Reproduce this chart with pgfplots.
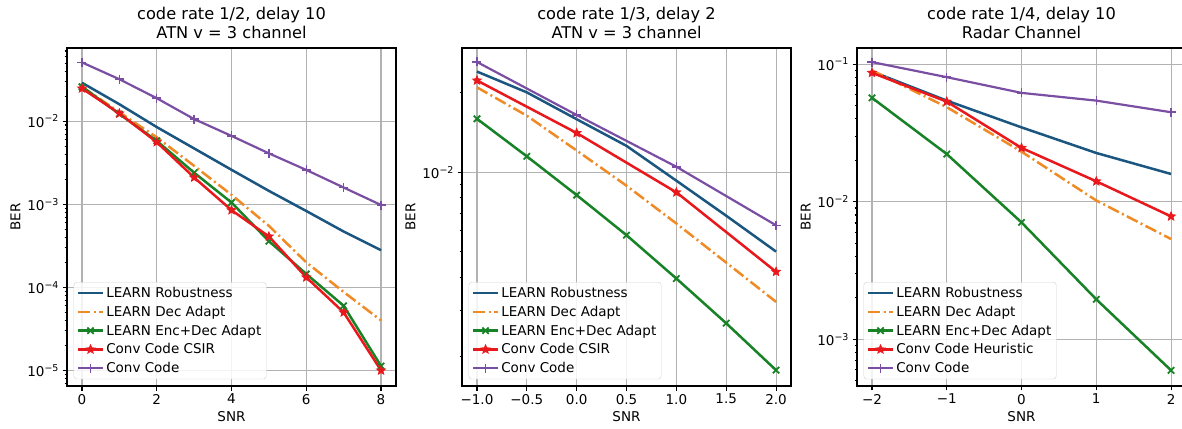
\documentclass[border=0pt]{standalone}
\usepackage{fontspec}
\setmainfont{DejaVu Sans}
\usepackage{pgfplots}
\pgfplotsset{compat=1.18}
\definecolor{cblue}{HTML}{1A5680}
\definecolor{corange}{HTML}{F08A24}
\definecolor{cgreen}{HTML}{178226}
\definecolor{cred}{HTML}{E8181C}
\definecolor{cpurple}{HTML}{7A4EA2}
\pgfdeclareplotmark{fstar}{%
 \pgfpathmoveto{\pgfpointpolar{90}{\pgfplotmarksize}}%
 \pgfpathlineto{\pgfpointpolar{126}{0.45\pgfplotmarksize}}%
 \pgfpathlineto{\pgfpointpolar{162}{\pgfplotmarksize}}%
 \pgfpathlineto{\pgfpointpolar{198}{0.45\pgfplotmarksize}}%
 \pgfpathlineto{\pgfpointpolar{234}{\pgfplotmarksize}}%
 \pgfpathlineto{\pgfpointpolar{270}{0.45\pgfplotmarksize}}%
 \pgfpathlineto{\pgfpointpolar{306}{\pgfplotmarksize}}%
 \pgfpathlineto{\pgfpointpolar{342}{0.45\pgfplotmarksize}}%
 \pgfpathlineto{\pgfpointpolar{18}{\pgfplotmarksize}}%
 \pgfpathlineto{\pgfpointpolar{54}{0.45\pgfplotmarksize}}%
 \pgfpathclose\pgfusepathqfillstroke}
\newcommand{\tf}{\fontsize{13.5}{16}\selectfont}
\pgfplotsset{
  legend image code/.code={\draw[mark repeat=2,mark phase=2,#1] plot coordinates {(0pt,0pt) (12.5pt,0pt) (25pt,0pt)};},
  bersub/.style={
    scale only axis, width=329pt, height=338pt,
    anchor=south west,
    axis line style={black, line width=1.3pt},
    tick align=outside, xtick pos=left, ytick pos=left,
    major tick length=4.5pt, minor tick length=2.5pt,
    every tick/.style={black, line width=1.1pt},
    grid=major, major grid style={gray!60, line width=1.1pt},
    tick label style={font=\tf},
    /pgf/number format/assume math mode=true,
    xlabel style={font=\tf}, ylabel style={font=\tf},
    xlabel={SNR}, ylabel={BER},
    title style={align=center, font=\fontsize{16.2}{18.5}\selectfont},
    ytick={1e-6,1e-5,1e-4,1e-3,1e-2,1e-1,1},
    yticklabels={10\textsuperscript{−6},10\textsuperscript{−5},10\textsuperscript{−4},10\textsuperscript{−3},10\textsuperscript{−2},10\textsuperscript{−1},10\textsuperscript{0}},
    minor ytick={2e-6,3e-6,4e-6,5e-6,6e-6,7e-6,8e-6,9e-6,2e-5,3e-5,4e-5,5e-5,6e-5,7e-5,8e-5,9e-5,2e-4,3e-4,4e-4,5e-4,6e-4,7e-4,8e-4,9e-4,2e-3,3e-3,4e-3,5e-3,6e-3,7e-3,8e-3,9e-3,2e-2,3e-2,4e-2,5e-2,6e-2,7e-2,8e-2,9e-2,2e-1,3e-1,4e-1,5e-1,6e-1,7e-1,8e-1,9e-1},
    legend cell align=left,
    legend style={at={(0.02,0.02)}, anchor=south west, font=\tf,
      draw=gray!35, rounded corners=3pt, fill=white, fill opacity=0.85, text opacity=1,
      inner sep=3pt, row sep=3pt},
  },
  sblue/.style={cblue, line width=2.5pt, no markers},
  sorange/.style={corange, line width=2.5pt, no markers, dash pattern=on 12pt off 3.5pt on 2pt off 3.5pt},
  sgreen/.style={cgreen, line width=2.5pt, mark=x, mark size=4.5pt, mark options={solid, line width=1.8pt}},
  sred/.style={cred, line width=2.5pt, mark=fstar, mark size=4.3pt, mark options={solid, fill=cred, line width=1pt}},
  spurple/.style={cpurple, line width=2.2pt, mark=+, mark size=4.5pt, mark options={solid, line width=1.5pt}},
}
\begin{document}
\begin{tikzpicture}
% Panel 1
\begin{semilogyaxis}[bersub, at={(67pt,42pt)},
  xmin=-0.4, xmax=8.4, ymin=6.5e-6, ymax=0.076,
  xtick={0,2,4,6,8},
  title={code rate 1/2, delay 10\\ATN v = 3 channel}]
\addplot[sblue] coordinates {(0,0.029) (1,0.016) (2,0.0085) (3,0.0047) (4,0.0026) (5,0.00145) (6,0.00083) (7,0.00047) (8,0.00028)};
\addlegendentry{LEARN Robustness}
\addplot[sorange] coordinates {(0,0.026) (1,0.0128) (2,0.0064) (3,0.0029) (4,0.0013) (5,0.00055) (6,0.0002) (7,0.000088) (8,0.00004)};
\addlegendentry{LEARN Dec Adapt}
\addplot[sgreen] coordinates {(0,0.026) (1,0.0122) (2,0.0058) (3,0.0024) (4,0.00105) (5,0.00036) (6,0.000145) (7,0.00006) (8,0.0000113)};
\addlegendentry{LEARN Enc+Dec Adapt}
\addplot[sred] coordinates {(0,0.0248) (1,0.0124) (2,0.0056) (3,0.0021) (4,0.00085) (5,0.00041) (6,0.000132) (7,0.00005) (8,0.00001)};
\addlegendentry{Conv Code CSIR}
\addplot[spurple] coordinates {(0,0.051) (1,0.032) (2,0.0189) (3,0.0106) (4,0.00665) (5,0.0041) (6,0.00259) (7,0.00159) (8,0.00098)};
\addlegendentry{Conv Code}
\end{semilogyaxis}
% Panel 2
\begin{semilogyaxis}[bersub, at={(462pt,42pt)},
  xmin=-1.15, xmax=2.15, ymin=0.00155, ymax=0.0296,
  xtick={-1,-0.5,0,0.5,1,1.5,2},
  xticklabels={−1.0,−0.5,0.0,0.5,1.0,1.5,2.0},
  title={code rate 1/3, delay 2\\ATN v = 3 channel}]
\addplot[sblue] coordinates {(-1,0.0241) (-0.5,0.0201) (0,0.0159) (0.5,0.0126) (1,0.0093) (1.5,0.00685) (2,0.00501)};
\addlegendentry{LEARN Robustness}
\addplot[sorange] coordinates {(-1,0.0210) (-0.5,0.0164) (0,0.0121) (0.5,0.0089) (1,0.0064) (1.5,0.00455) (2,0.00323)};
\addlegendentry{LEARN Dec Adapt}
\addplot[sgreen] coordinates {(-1,0.01596) (-0.5,0.0115) (0,0.0082) (0.5,0.00578) (1,0.00396) (1.5,0.00268) (2,0.00178)};
\addlegendentry{LEARN Enc+Dec Adapt}
\addplot[sred] coordinates {(-1,0.0223) (0,0.0141) (1,0.0084) (2,0.0042)};
\addlegendentry{Conv Code CSIR}
\addplot[spurple] coordinates {(-1,0.0262) (0,0.0165) (1,0.0105) (2,0.0063)};
\addlegendentry{Conv Code}
\end{semilogyaxis}
% Panel 3
\begin{semilogyaxis}[bersub, at={(857pt,42pt)},
  xmin=-2.2, xmax=2.2, ymin=0.000457, ymax=0.131,
  xtick={-2,-1,0,1,2},
  xticklabels={−2,−1,0,1,2},
  title={code rate 1/4, delay 10\\Radar Channel}]
\addplot[sblue] coordinates {(-2,0.0885) (-1,0.0543) (0,0.0347) (1,0.0226) (2,0.0159)};
\addlegendentry{LEARN Robustness}
\addplot[sorange] coordinates {(-2,0.090) (-1,0.0487) (0,0.0231) (1,0.0102) (2,0.00535)};
\addlegendentry{LEARN Dec Adapt}
\addplot[sgreen] coordinates {(-2,0.0569) (-1,0.0222) (0,0.00707) (1,0.00195) (2,0.000594)};
\addlegendentry{LEARN Enc+Dec Adapt}
\addplot[sred] coordinates {(-2,0.0865) (-1,0.0534) (0,0.0246) (1,0.01406) (2,0.00782)};
\addlegendentry{Conv Code Heuristic}
\addplot[spurple] coordinates {(-2,0.1035) (-1,0.0804) (0,0.0618) (1,0.0543) (2,0.0447)};
\addlegendentry{Conv Code}
\end{semilogyaxis}
\pgfresetboundingbox
\useasboundingbox (0pt,0pt) rectangle (1182pt,428pt);
\end{tikzpicture}
\end{document}
